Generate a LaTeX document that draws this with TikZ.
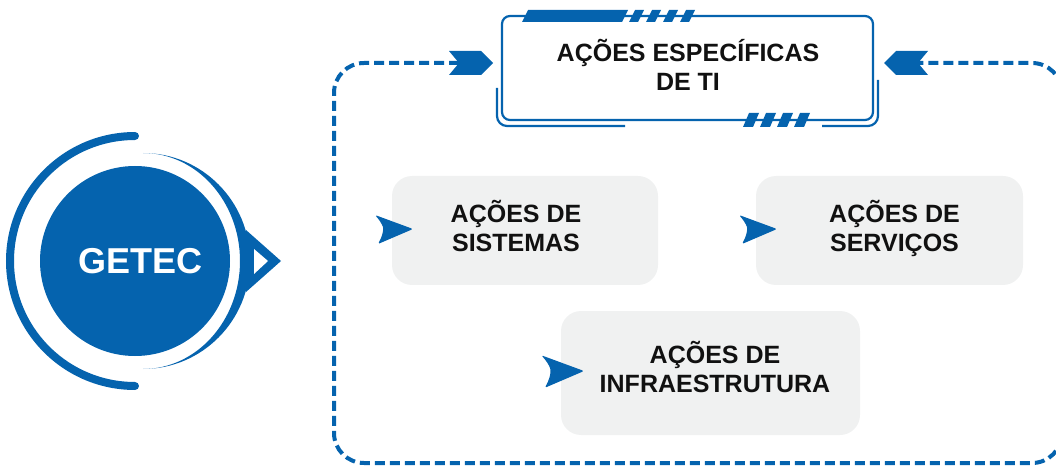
\documentclass[tikz,border=0pt]{standalone}
\usepackage{fontspec}
\setmainfont{Liberation Sans}
\definecolor{ablue}{RGB}{5,99,174}
\definecolor{agray}{RGB}{240,241,241}
\definecolor{atext}{RGB}{17,17,17}
\tikzset{
  titlebox/.style={draw=ablue, line width=2.2pt, rounded corners=8pt, inner sep=0pt},
  graybox/.style={fill=agray, rounded corners=20pt, inner sep=0pt},
  lbl/.style={inner sep=0pt, text=atext, font=\fontsize{25}{29}\selectfont\bfseries},
  dashline/.style={draw=ablue, line width=4pt, dash pattern=on 10pt off 5pt, rounded corners=30pt},
  pointer/.pic={\fill[ablue, rounded corners=1.5pt] (0,0) -- (-38,14) .. controls (-31,6) and (-30,2) .. (-30,0) .. controls (-30,-3) and (-31,-8) .. (-35,-15) -- cycle;}
}
\begin{document}
\begin{tikzpicture}[x=1pt,y=1pt]
\useasboundingbox (0,0) rectangle (1056,466);

% GETEC emblem
\draw[ablue, line width=8pt, line cap=round] (135,330) arc[start angle=90, end angle=270, radius=125];
\fill[ablue] (143,313) arc[start angle=90, end angle=-90, x radius=107, y radius=108]
   arc[start angle=-90, end angle=90, x radius=97, y radius=108] -- cycle;
\fill[ablue] (246,236) -- (281,205) -- (246,174) -- cycle;
\fill[white] (254,217) -- (268,205) -- (254,192) -- cycle;
\node[circle, fill=ablue, minimum size=190pt, inner sep=0pt] (getec) at (135,205) {};
\node[inner sep=0pt, text=white, font=\fontsize{36}{40}\selectfont\bfseries] (getectxt) at (140.5,205) {GETEC};

% dashed frame between the two chevrons
\coordinate (lchev) at (459,403);
\coordinate (rchev) at (918,403);
\draw[dashline] (lchev) -- (334,403) -- (334,3) -- (1062,3) -- (1062,403) -- (rchev);
\fill[ablue] (449,415) -- (481,415) -- (493,403) -- (481,391) -- (449,391) -- (459,403) -- cycle;
\fill[ablue] (884,403) -- (896,415) -- (928,415) -- (918,403) -- (928,391) -- (896,391) -- cycle;

% title box
\node[titlebox, minimum width=371pt, minimum height=104pt] (title) at (687.5,398) {};
\draw[ablue, line width=2.2pt, rounded corners=10pt] (497,378) -- (497,340) -- (625,340);
\draw[ablue, line width=2.2pt, rounded corners=10pt] (822,340) -- (878,340) -- (878,386);
\fill[ablue] (522,444) -- (528,456) -- (628,456) -- (622,444) -- cycle;
\foreach \i in {0,1,2,3}{
  \fill[ablue] ({629+17*\i},444) -- ({635+17*\i},456) -- ({644+17*\i},456) -- ({638+17*\i},444) -- cycle;
  \fill[ablue] ({743+17*\i},339) -- ({749+17*\i},353) -- ({759+17*\i},353) -- ({753+17*\i},339) -- cycle;
}
\node[lbl, anchor=base] (titletxt) at (688,404) {\begin{tabular}[t]{@{}c@{}}AÇÕES ESPECÍFICAS\\DE TI\end{tabular}};

% gray boxes
\node[graybox, minimum width=266pt, minimum height=109pt] (sis) at (525,235.5) {};
\node[lbl, anchor=base] (sistxt) at (516,243) {\begin{tabular}[t]{@{}c@{}}AÇÕES DE\\SISTEMAS\end{tabular}};
\pic at (413,237) {pointer};

\node[graybox, minimum width=267pt, minimum height=109pt] (serv) at (889.5,235.5) {};
\node[lbl, anchor=base] (servtxt) at (894.5,243) {\begin{tabular}[t]{@{}c@{}}AÇÕES DE\\SERVIÇOS\end{tabular}};
\pic at (777,237) {pointer};

\node[graybox, minimum width=299pt, minimum height=124pt] (infra) at (710.5,93) {};
\node[lbl, anchor=base] (infratxt) at (715,103) {\begin{tabular}[t]{@{}c@{}}AÇÕES DE\\INFRAESTRUTURA\end{tabular}};
\pic[scale=1.12] at (584,95) {pointer};
\end{tikzpicture}
\end{document}
